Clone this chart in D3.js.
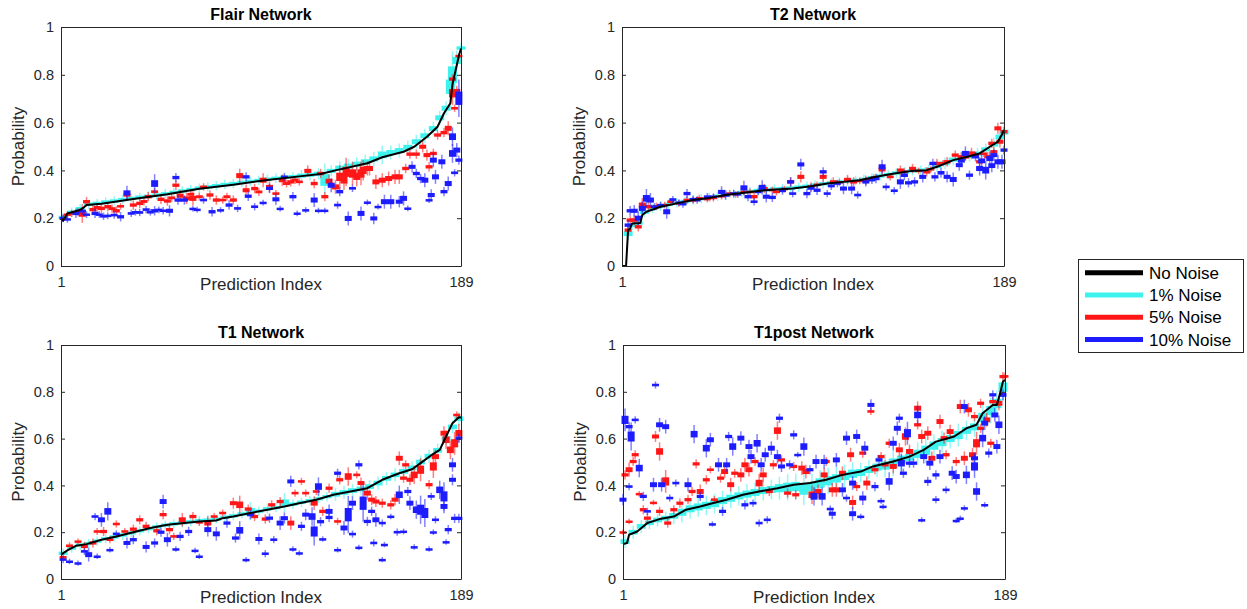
<!DOCTYPE html>
<html>
<head>
<meta charset="utf-8">
<script src="https://cdn.jsdelivr.net/npm/d3@7"></script>
<style>
  body { margin: 0; background: #fff; }
  svg { display: block; font-family: "Liberation Sans", Arial, Helvetica, sans-serif; }
</style>
</head>
<body>
<script>
// chart values
var titles = ["Flair Network", "T2 Network", "T1 Network", "T1post Network"];
var legendLabels = ["No Noise", "1% Noise", "5% Noise", "10% Noise"];
var xTicks = [1, 189];
var yTicks = [0, 0.2, 0.4, 0.6, 0.8, 1];

// no noise curves: [index, probability]
// noisy runs: [index, median, box height]
var flairNone = [[1,0.198],[2,0.19],[4,0.22],[9,0.232],[11,0.24],[13,0.255],[20,0.26],[35,0.28],[51,0.3],[66,0.323],[82,0.34],[98,0.36],[113,0.375],[123,0.385],[130,0.4],[145,0.43],[152,0.455],[162,0.478],[167,0.499],[173,0.541],[178,0.583],[181,0.639],[184,0.681],[185,0.76],[186,0.8],[188,0.88],[189,0.91]];
var flairN1 = [[2,0.203,0.014],[6,0.225,0.014],[10,0.24,0.014],[14,0.258,0.014],[18,0.262,0.014],[22,0.268,0.014],[26,0.272,0.014],[30,0.278,0.014],[34,0.283,0.014],[38,0.288,0.014],[42,0.292,0.014],[46,0.297,0.014],[50,0.302,0.014],[54,0.308,0.014],[58,0.314,0.014],[62,0.32,0.014],[66,0.326,0.014],[70,0.331,0.014],[74,0.336,0.014],[78,0.341,0.014],[82,0.345,0.014],[86,0.35,0.014],[90,0.354,0.014],[94,0.358,0.014],[98,0.363,0.014],[102,0.367,0.014],[106,0.371,0.014],[110,0.374,0.014],[114,0.378,0.017],[118,0.382,0.017],[122,0.386,0.017],[125,0.36,0.049],[128,0.398,0.017],[132,0.41,0.02],[136,0.418,0.021],[140,0.426,0.021],[144,0.436,0.021],[148,0.448,0.021],[152,0.465,0.028],[156,0.475,0.021],[160,0.483,0.021],[164,0.497,0.02],[168,0.52,0.021],[172,0.545,0.021],[176,0.575,0.021],[179,0.62,0.021],[182,0.66,0.021],[184,0.75,0.06],[185,0.8,0.07],[187,0.86,0.03],[189,0.912,0.014]];
var flairN5 = [[2,0.199,0.011],[4,0.215,0.01],[6,0.22,0.011],[9,0.225,0.012],[11,0.22,0.028],[13,0.269,0.014],[16,0.236,0.014],[18,0.245,0.012],[20,0.241,0.014],[23,0.248,0.014],[25,0.24,0.012],[27,0.231,0.014],[29,0.25,0.01],[32,0.297,0.014],[35,0.255,0.014],[38,0.262,0.014],[40,0.27,0.012],[42,0.29,0.014],[45,0.311,0.011],[48,0.279,0.014],[51,0.272,0.014],[53,0.285,0.012],[55,0.338,0.014],[57,0.294,0.017],[60,0.283,0.017],[62,0.3,0.012],[63,0.283,0.021],[66,0.29,0.012],[68,0.331,0.011],[71,0.297,0.014],[74,0.276,0.014],[77,0.276,0.011],[79,0.29,0.012],[82,0.276,0.014],[85,0.378,0.021],[88,0.317,0.017],[92,0.324,0.014],[94,0.31,0.012],[96,0.359,0.021],[99,0.331,0.017],[102,0.303,0.011],[105,0.359,0.017],[107,0.345,0.012],[109,0.352,0.014],[111,0.36,0.012],[113,0.352,0.011],[117,0.398,0.017],[120,0.345,0.014],[123,0.387,0.014],[125,0.29,0.014],[127,0.355,0.02],[130,0.331,0.021],[132,0.373,0.035],[134,0.36,0.03],[135,0.394,0.042],[138,0.387,0.035],[140,0.375,0.03],[142,0.387,0.035],[143,0.4,0.03],[145,0.408,0.021],[146,0.408,0.021],[149,0.352,0.021],[152,0.359,0.021],[155,0.366,0.021],[158,0.373,0.021],[160,0.373,0.021],[163,0.408,0.014],[165,0.468,0.014],[168,0.468,0.014],[171,0.499,0.017],[173,0.464,0.017],[174,0.415,0.014],[176,0.471,0.014],[178,0.548,0.014],[181,0.558,0.014],[183,0.576,0.021],[185,0.723,0.035],[185,0.782,0.014],[187,0.734,0.014],[186,0.66,0.011],[188,0.88,0.007]];
var flairN10 = [[2,0.2,0.011],[4,0.195,0.01],[8,0.22,0.014],[11,0.23,0.012],[13,0.215,0.01],[17,0.22,0.014],[19,0.215,0.01],[21,0.208,0.011],[23,0.21,0.01],[26,0.213,0.011],[29,0.206,0.014],[32,0.306,0.021],[34,0.22,0.011],[36,0.225,0.01],[38,0.224,0.011],[41,0.236,0.011],[43,0.225,0.01],[45,0.231,0.014],[45,0.345,0.028],[47,0.235,0.01],[49,0.231,0.011],[52,0.231,0.017],[55,0.37,0.014],[56,0.276,0.014],[59,0.276,0.014],[63,0.24,0.008],[65,0.236,0.008],[68,0.276,0.011],[72,0.227,0.014],[76,0.234,0.008],[80,0.255,0.014],[84,0.241,0.011],[88,0.373,0.014],[89,0.292,0.014],[92,0.248,0.011],[96,0.265,0.008],[99,0.325,0.014],[102,0.279,0.017],[104,0.24,0.008],[106,0.373,0.011],[110,0.29,0.014],[112,0.22,0.008],[116,0.234,0.008],[120,0.276,0.021],[122,0.232,0.008],[125,0.232,0.008],[128,0.338,0.021],[131,0.255,0.011],[132,0.311,0.014],[136,0.199,0.021],[138,0.325,0.011],[142,0.22,0.021],[145,0.266,0.008],[148,0.199,0.017],[150,0.248,0.008],[153,0.269,0.021],[156,0.269,0.021],[160,0.269,0.017],[162,0.283,0.021],[164,0.241,0.008],[166,0.415,0.017],[168,0.387,0.014],[170,0.366,0.014],[172,0.359,0.021],[174,0.276,0.008],[175,0.297,0.017],[176,0.443,0.021],[177,0.373,0.021],[180,0.436,0.021],[181,0.311,0.014],[183,0.345,0.021],[185,0.471,0.028],[185,0.541,0.028],[186,0.39,0.011],[188,0.443,0.014],[188,0.702,0.056],[187,0.485,0.021]];

var t2None = [[1,0],[3,0],[4,0.15],[5,0.157],[6,0.178],[10,0.18],[11,0.213],[13,0.227],[20,0.248],[28,0.262],[36,0.276],[44,0.285],[52,0.297],[61,0.306],[69,0.315],[77,0.32],[85,0.324],[94,0.334],[102,0.345],[110,0.352],[118,0.359],[126,0.373],[135,0.387],[143,0.397],[151,0.401],[156,0.415],[164,0.443],[171,0.457],[177,0.471],[182,0.499],[186,0.52],[188,0.55],[189,0.569]];
var t2N1 = [[4,0.135,0.02],[6,0.17,0.014],[9,0.18,0.014],[12,0.225,0.014],[16,0.24,0.014],[20,0.25,0.014],[24,0.258,0.014],[28,0.264,0.014],[32,0.27,0.014],[36,0.277,0.014],[40,0.282,0.014],[44,0.287,0.014],[48,0.292,0.014],[52,0.298,0.014],[56,0.303,0.014],[60,0.308,0.014],[64,0.312,0.014],[68,0.316,0.014],[72,0.319,0.014],[76,0.322,0.014],[80,0.324,0.014],[84,0.326,0.014],[88,0.33,0.014],[92,0.334,0.014],[96,0.339,0.014],[100,0.344,0.014],[104,0.348,0.014],[108,0.352,0.014],[112,0.355,0.014],[116,0.358,0.014],[120,0.363,0.014],[124,0.37,0.014],[128,0.377,0.014],[132,0.383,0.014],[136,0.389,0.014],[140,0.394,0.014],[144,0.398,0.014],[148,0.401,0.014],[152,0.405,0.014],[156,0.418,0.017],[160,0.43,0.017],[164,0.445,0.017],[168,0.452,0.017],[172,0.46,0.017],[176,0.47,0.017],[180,0.488,0.017],[184,0.51,0.02],[187,0.54,0.02],[189,0.56,0.02]];
var t2N5 = [[4,0.15,0.014],[5,0.192,0.014],[7,0.192,0.014],[9,0.164,0.014],[11,0.255,0.021],[14,0.248,0.014],[18,0.25,0.011],[22,0.255,0.01],[25,0.269,0.011],[29,0.262,0.01],[33,0.276,0.011],[36,0.275,0.01],[39,0.283,0.011],[43,0.28,0.01],[46,0.285,0.011],[50,0.292,0.01],[54,0.303,0.011],[57,0.3,0.01],[61,0.31,0.011],[64,0.31,0.01],[66,0.29,0.014],[71,0.324,0.014],[75,0.318,0.01],[77,0.31,0.011],[81,0.322,0.01],[84,0.352,0.014],[89,0.373,0.017],[94,0.331,0.014],[97,0.34,0.01],[100,0.373,0.017],[105,0.352,0.014],[108,0.35,0.01],[112,0.362,0.014],[115,0.352,0.014],[118,0.356,0.01],[121,0.359,0.014],[125,0.37,0.01],[129,0.404,0.017],[133,0.373,0.011],[138,0.401,0.014],[140,0.395,0.01],[144,0.408,0.014],[147,0.398,0.01],[151,0.394,0.014],[153,0.405,0.01],[156,0.429,0.014],[159,0.43,0.01],[161,0.436,0.014],[165,0.464,0.014],[168,0.457,0.014],[170,0.455,0.01],[173,0.471,0.017],[175,0.465,0.01],[177,0.436,0.014],[179,0.47,0.01],[181,0.457,0.014],[183,0.513,0.014],[184,0.478,0.014],[186,0.576,0.017],[187,0.52,0.017],[189,0.562,0.014]];
var t2N10 = [[4,0.171,0.014],[5,0.231,0.014],[7,0.231,0.017],[9,0.2,0.021],[11,0.241,0.021],[13,0.283,0.028],[15,0.276,0.021],[17,0.248,0.011],[20,0.255,0.01],[23,0.227,0.021],[26,0.278,0.011],[29,0.265,0.01],[31,0.259,0.011],[33,0.303,0.014],[36,0.28,0.01],[38,0.276,0.011],[43,0.29,0.011],[46,0.29,0.01],[50,0.31,0.017],[52,0.297,0.014],[56,0.303,0.011],[58,0.3,0.01],[61,0.327,0.021],[63,0.29,0.014],[66,0.269,0.011],[68,0.31,0.01],[70,0.329,0.021],[72,0.29,0.017],[75,0.287,0.014],[80,0.315,0.012],[84,0.352,0.014],[85,0.303,0.011],[89,0.425,0.017],[92,0.303,0.014],[94,0.325,0.012],[97,0.317,0.014],[100,0.394,0.014],[102,0.303,0.011],[104,0.335,0.012],[107,0.345,0.011],[110,0.324,0.017],[114,0.324,0.017],[117,0.297,0.011],[121,0.352,0.014],[124,0.36,0.012],[126,0.366,0.014],[129,0.415,0.021],[131,0.331,0.011],[135,0.315,0.011],[138,0.352,0.021],[140,0.38,0.015],[142,0.348,0.014],[145,0.352,0.014],[149,0.373,0.017],[154,0.429,0.014],[155,0.373,0.014],[158,0.39,0.015],[161,0.373,0.017],[164,0.362,0.021],[167,0.422,0.017],[168,0.44,0.015],[170,0.471,0.021],[172,0.38,0.014],[175,0.457,0.014],[177,0.408,0.021],[178,0.44,0.02],[180,0.401,0.028],[182,0.45,0.021],[183,0.42,0.02],[184,0.464,0.017],[186,0.436,0.021],[188,0.436,0.021],[189,0.485,0.014]];

var t1None = [[1,0.104],[4,0.122],[8,0.142],[13,0.149],[20,0.168],[27,0.182],[35,0.2],[43,0.218],[51,0.232],[59,0.239],[66,0.246],[74,0.25],[77,0.26],[82,0.267],[90,0.282],[98,0.296],[106,0.31],[113,0.324],[121,0.339],[129,0.36],[137,0.374],[145,0.388],[152,0.424],[160,0.452],[166,0.469],[170,0.495],[176,0.535],[179,0.552],[182,0.609],[185,0.666],[188,0.691],[189,0.69]];
var t1N1 = [[2,0.11,0.014],[6,0.132,0.014],[10,0.145,0.014],[14,0.152,0.014],[18,0.162,0.014],[22,0.172,0.014],[26,0.18,0.014],[30,0.188,0.014],[34,0.197,0.014],[38,0.206,0.014],[42,0.215,0.014],[46,0.223,0.014],[50,0.23,0.014],[54,0.236,0.014],[58,0.24,0.014],[62,0.245,0.014],[66,0.25,0.014],[70,0.252,0.014],[74,0.256,0.014],[78,0.264,0.014],[82,0.27,0.014],[86,0.278,0.014],[90,0.29,0.028],[94,0.29,0.014],[98,0.3,0.014],[102,0.305,0.014],[106,0.325,0.03],[110,0.32,0.014],[114,0.328,0.014],[118,0.335,0.014],[122,0.343,0.014],[126,0.352,0.014],[130,0.362,0.02],[134,0.37,0.02],[138,0.378,0.02],[142,0.385,0.02],[146,0.395,0.02],[150,0.41,0.02],[154,0.43,0.02],[158,0.445,0.02],[162,0.46,0.02],[166,0.475,0.02],[170,0.5,0.02],[174,0.525,0.02],[178,0.55,0.02],[182,0.6,0.02],[185,0.65,0.02],[188,0.685,0.02]];
var t1N5 = [[2,0.094,0.008],[5,0.142,0.011],[9,0.161,0.008],[12,0.139,0.014],[16,0.154,0.014],[18,0.203,0.011],[21,0.203,0.014],[24,0.168,0.011],[27,0.235,0.011],[31,0.203,0.011],[35,0.213,0.014],[38,0.253,0.014],[41,0.225,0.014],[46,0.206,0.014],[49,0.275,0.014],[52,0.211,0.014],[54,0.182,0.011],[58,0.253,0.021],[63,0.267,0.014],[66,0.242,0.011],[70,0.239,0.021],[73,0.267,0.011],[77,0.282,0.011],[82,0.324,0.017],[85,0.317,0.028],[89,0.299,0.014],[92,0.267,0.014],[97,0.256,0.014],[100,0.317,0.014],[104,0.331,0.014],[109,0.239,0.021],[111,0.367,0.011],[114,0.417,0.011],[116,0.367,0.011],[120,0.324,0.021],[121,0.374,0.011],[124,0.289,0.014],[127,0.388,0.014],[131,0.246,0.011],[132,0.424,0.014],[136,0.438,0.028],[140,0.445,0.011],[142,0.41,0.017],[145,0.367,0.021],[147,0.339,0.017],[149,0.331,0.017],[152,0.324,0.014],[156,0.317,0.014],[158,0.339,0.017],[160,0.516,0.021],[162,0.431,0.014],[163,0.488,0.014],[165,0.424,0.017],[167,0.445,0.028],[170,0.467,0.035],[174,0.403,0.014],[176,0.481,0.035],[177,0.523,0.021],[181,0.623,0.021],[182,0.595,0.028],[184,0.552,0.028],[186,0.58,0.035],[187,0.701,0.011],[188,0.623,0.028]];
var t1N10 = [[2,0.083,0.011],[5,0.075,0.008],[9,0.068,0.007],[12,0.118,0.011],[14,0.104,0.021],[17,0.267,0.011],[18,0.097,0.007],[20,0.253,0.021],[23,0.289,0.028],[24,0.125,0.007],[27,0.193,0.011],[32,0.154,0.017],[35,0.168,0.014],[41,0.137,0.017],[45,0.154,0.014],[48,0.2,0.014],[49,0.331,0.021],[51,0.168,0.021],[55,0.128,0.007],[57,0.182,0.014],[61,0.203,0.014],[64,0.122,0.007],[66,0.097,0.007],[70,0.211,0.021],[74,0.193,0.021],[79,0.239,0.014],[83,0.175,0.014],[85,0.208,0.028],[88,0.083,0.006],[90,0.275,0.014],[94,0.171,0.017],[97,0.108,0.011],[99,0.26,0.014],[101,0.168,0.011],[104,0.239,0.021],[106,0.26,0.017],[109,0.417,0.017],[110,0.128,0.007],[113,0.111,0.007],[114,0.225,0.014],[116,0.275,0.017],[119,0.267,0.028],[120,0.203,0.043],[122,0.395,0.028],[123,0.245,0.014],[124,0.171,0.007],[127,0.289,0.021],[127,0.263,0.014],[131,0.125,0.007],[131,0.452,0.014],[134,0.218,0.021],[136,0.275,0.057],[138,0.192,0.011],[138,0.324,0.021],[141,0.135,0.007],[141,0.488,0.014],[143,0.324,0.057],[145,0.246,0.014],[147,0.289,0.014],[148,0.154,0.011],[149,0.253,0.021],[152,0.239,0.011],[152,0.083,0.006],[153,0.147,0.007],[156,0.267,0.008],[159,0.2,0.011],[160,0.36,0.028],[162,0.203,0.008],[164,0.374,0.014],[165,0.324,0.021],[167,0.137,0.007],[168,0.296,0.028],[170,0.296,0.043],[172,0.282,0.043],[174,0.128,0.007],[175,0.353,0.011],[176,0.2,0.008],[177,0.253,0.011],[179,0.381,0.028],[181,0.353,0.043],[181,0.31,0.021],[182,0.158,0.008],[183,0.211,0.014],[185,0.424,0.017],[185,0.488,0.021],[186,0.259,0.014],[188,0.602,0.014],[188,0.259,0.014]];

var t1postNone = [[1,0.149],[3,0.154],[4,0.189],[8,0.203],[13,0.239],[19,0.256],[26,0.267],[32,0.296],[39,0.31],[45,0.324],[52,0.339],[60,0.36],[68,0.374],[77,0.388],[85,0.403],[93,0.41],[101,0.424],[109,0.445],[118,0.459],[124,0.481],[134,0.502],[142,0.523],[149,0.552],[155,0.587],[164,0.609],[170,0.644],[175,0.659],[178,0.708],[183,0.744],[185,0.744],[187,0.808],[188,0.844],[189,0.85]];
var t1postN1 = [[2,0.16,0.02],[6,0.2,0.02],[10,0.225,0.02],[14,0.24,0.02],[18,0.252,0.02],[22,0.26,0.02],[26,0.27,0.025],[30,0.285,0.03],[34,0.3,0.03],[38,0.308,0.03],[42,0.315,0.03],[46,0.322,0.03],[50,0.335,0.03],[54,0.345,0.03],[58,0.355,0.03],[62,0.363,0.03],[66,0.37,0.03],[70,0.378,0.03],[74,0.383,0.03],[78,0.388,0.035],[82,0.392,0.04],[86,0.395,0.04],[90,0.385,0.05],[94,0.395,0.04],[98,0.41,0.04],[102,0.42,0.04],[106,0.43,0.035],[110,0.44,0.035],[114,0.45,0.035],[118,0.455,0.03],[122,0.468,0.03],[126,0.478,0.03],[130,0.485,0.035],[134,0.495,0.04],[138,0.51,0.035],[142,0.52,0.03],[146,0.535,0.035],[150,0.55,0.04],[154,0.57,0.035],[158,0.585,0.035],[162,0.6,0.03],[166,0.615,0.035],[170,0.635,0.03],[174,0.65,0.03],[178,0.69,0.04],[182,0.72,0.04],[185,0.75,0.04],[188,0.82,0.04]];
var t1postN5 = [[1,0.2,0.008],[2,0.445,0.014],[4,0.467,0.021],[4,0.246,0.008],[6,0.502,0.014],[7,0.531,0.014],[9,0.364,0.008],[11,0.296,0.014],[13,0.26,0.014],[16,0.327,0.007],[17,0.609,0.017],[19,0.545,0.028],[19,0.289,0.014],[22,0.417,0.035],[23,0.239,0.014],[26,0.296,0.014],[29,0.324,0.014],[33,0.339,0.014],[35,0.374,0.014],[37,0.492,0.014],[39,0.374,0.021],[42,0.424,0.014],[44,0.467,0.011],[46,0.339,0.011],[49,0.431,0.014],[51,0.459,0.021],[54,0.403,0.021],[56,0.452,0.014],[59,0.445,0.021],[61,0.488,0.021],[63,0.467,0.021],[66,0.502,0.014],[68,0.41,0.028],[70,0.445,0.021],[73,0.374,0.014],[75,0.488,0.014],[77,0.634,0.028],[79,0.509,0.014],[82,0.367,0.014],[85,0.481,0.014],[86,0.36,0.014],[89,0.474,0.021],[91,0.459,0.021],[94,0.36,0.028],[97,0.374,0.021],[100,0.445,0.021],[101,0.502,0.014],[104,0.381,0.021],[106,0.381,0.021],[109,0.452,0.021],[113,0.531,0.021],[114,0.327,0.021],[116,0.395,0.014],[119,0.538,0.014],[121,0.41,0.021],[123,0.716,0.011],[125,0.467,0.014],[128,0.523,0.014],[130,0.488,0.014],[132,0.58,0.014],[134,0.481,0.021],[137,0.552,0.021],[140,0.609,0.028],[142,0.545,0.021],[146,0.659,0.014],[146,0.73,0.021],[148,0.609,0.021],[151,0.623,0.021],[153,0.516,0.021],[157,0.673,0.021],[159,0.602,0.017],[160,0.531,0.014],[162,0.63,0.021],[165,0.502,0.014],[167,0.737,0.021],[169,0.516,0.021],[171,0.723,0.021],[173,0.531,0.021],[174,0.694,0.014],[175,0.58,0.035],[177,0.751,0.014],[177,0.644,0.014],[180,0.68,0.021],[182,0.58,0.014],[183,0.758,0.014],[186,0.751,0.021],[188,0.865,0.014],[189,0.866,0.011]];
var t1postN10 = [[1,0.339,0.017],[2,0.68,0.035],[4,0.651,0.014],[4,0.395,0.011],[5,0.609,0.043],[7,0.68,0.011],[9,0.474,0.028],[11,0.353,0.014],[13,0.289,0.011],[16,0.403,0.021],[17,0.829,0.011],[19,0.659,0.021],[20,0.403,0.021],[22,0.651,0.021],[24,0.346,0.011],[27,0.41,0.011],[33,0.403,0.021],[36,0.619,0.028],[39,0.353,0.014],[42,0.559,0.028],[44,0.595,0.021],[45,0.235,0.007],[48,0.488,0.021],[50,0.289,0.014],[52,0.488,0.021],[53,0.609,0.014],[55,0.566,0.028],[59,0.602,0.021],[61,0.317,0.014],[63,0.566,0.021],[64,0.523,0.021],[65,0.324,0.011],[67,0.58,0.028],[68,0.239,0.011],[69,0.488,0.021],[71,0.531,0.021],[72,0.253,0.011],[74,0.559,0.021],[77,0.523,0.021],[78,0.687,0.014],[79,0.481,0.017],[83,0.488,0.014],[85,0.616,0.014],[87,0.531,0.008],[90,0.566,0.028],[93,0.467,0.014],[95,0.353,0.028],[96,0.502,0.021],[99,0.353,0.028],[100,0.502,0.021],[103,0.299,0.011],[104,0.279,0.017],[106,0.509,0.021],[109,0.381,0.021],[111,0.346,0.011],[111,0.602,0.021],[114,0.279,0.021],[114,0.41,0.021],[116,0.609,0.021],[118,0.267,0.008],[119,0.346,0.021],[120,0.559,0.021],[123,0.744,0.017],[125,0.395,0.014],[127,0.509,0.014],[128,0.334,0.008],[129,0.31,0.007],[132,0.417,0.028],[134,0.58,0.021],[136,0.644,0.021],[137,0.687,0.014],[138,0.495,0.028],[139,0.452,0.014],[141,0.623,0.035],[142,0.495,0.014],[144,0.495,0.014],[146,0.701,0.028],[148,0.253,0.006],[149,0.523,0.021],[151,0.417,0.014],[152,0.495,0.021],[155,0.445,0.014],[155,0.339,0.011],[157,0.523,0.021],[160,0.381,0.011],[163,0.452,0.021],[165,0.25,0.006],[165,0.438,0.021],[167,0.26,0.006],[169,0.737,0.021],[169,0.303,0.008],[170,0.445,0.028],[174,0.516,0.017],[174,0.481,0.035],[175,0.374,0.028],[178,0.602,0.028],[179,0.317,0.007],[179,0.666,0.021],[181,0.538,0.014],[183,0.787,0.014],[184,0.701,0.021],[185,0.566,0.021],[186,0.659,0.028],[188,0.787,0.017]];

// ---- layout ----
var W = 1247, H = 609;
var colors = {none: "#000000", n1: "#3ef2ee", n5: "#ff1616", n10: "#1c1cff"};
var legendColors = [colors.none, colors.n1, colors.n5, colors.n10];
var axisColor = "#262626";

var panels = [
    {title: titles[0], none: flairNone, n1: flairN1, n5: flairN5, n10: flairN10, left: 61, right: 461, top: 27, bottom: 266},
    {title: titles[1], none: t2None, n1: t2N1, n5: t2N5, n10: t2N10, left: 622, right: 1004, top: 27, bottom: 266},
    {title: titles[2], none: t1None, n1: t1N1, n5: t1N5, n10: t1N10, left: 61, right: 461, top: 345, bottom: 579},
    {title: titles[3], none: t1postNone, n1: t1postN1, n5: t1postN5, n10: t1postN10, left: 623, right: 1005, top: 345, bottom: 579}
];

var svg = d3.select("body").append("svg")
    .attr("width", W)
    .attr("height", H);

svg.append("rect").attr("width", W).attr("height", H).attr("fill", "#fff");

panels.forEach(function(p) {
    var x = d3.scaleLinear().domain([1, 189]).range([p.left, p.right]);
    var y = d3.scaleLinear().domain([0, 1]).range([p.bottom, p.top]);
    var g = svg.append("g");

    // boxes: cyan first, then red, then blue
    [["n1", 9], ["n5", 7], ["n10", 7]].forEach(function(s) {
        var key = s[0], bw = s[1];
        var sg = g.append("g");
        sg.selectAll("line")
            .data(p[key])
            .enter()
            .append("line")
            .attr("x1", d => x(d[0]))
            .attr("x2", d => x(d[0]))
            .attr("y1", d => y(d[1] - d[2] / 2 - Math.max(d[2] * 0.9, 0.008)))
            .attr("y2", d => y(d[1] + d[2] / 2 + Math.max(d[2] * 0.9, 0.008)))
            .attr("stroke", colors[key])
            .attr("stroke-width", 1.5)
            .attr("stroke-opacity", 0.55);
        sg.selectAll("rect")
            .data(p[key])
            .enter()
            .append("rect")
            .attr("x", d => x(d[0]) - bw / 2)
            .attr("width", bw)
            .attr("y", d => y(d[1] + d[2] / 2))
            .attr("height", d => Math.max(y(d[1] - d[2] / 2) - y(d[1] + d[2] / 2), 2.5))
            .attr("fill", colors[key]);
    });

    var line = d3.line().x(d => x(d[0])).y(d => y(d[1]));
    g.append("path")
        .datum(p.none)
        .attr("d", line)
        .attr("fill", "none")
        .attr("stroke", colors.none)
        .attr("stroke-width", 2)
        .attr("stroke-linejoin", "round");

    // axes box
    var yAx = g.append("g")
        .attr("transform", "translate(" + p.left + ",0)")
        .call(d3.axisLeft(y).tickValues(yTicks).tickSize(-4).tickSizeOuter(0).tickPadding(7)
            .tickFormat(d => d === 0 || d === 1 ? String(d) : d3.format(".1f")(d)));
    var yAxR = g.append("g")
        .attr("transform", "translate(" + p.right + ",0)")
        .call(d3.axisRight(y).tickValues(yTicks).tickSize(-4).tickSizeOuter(0).tickFormat(""));
    var xAx = g.append("g")
        .attr("transform", "translate(0," + p.bottom + ")")
        .call(d3.axisBottom(x).tickValues(xTicks).tickSize(-4).tickSizeOuter(0).tickPadding(11));
    var xAxT = g.append("g")
        .attr("transform", "translate(0," + p.top + ")")
        .call(d3.axisTop(x).tickValues(xTicks).tickSize(-4).tickSizeOuter(0).tickFormat(""));

    [yAx, yAxR, xAx, xAxT].forEach(function(a) {
        a.attr("font-family", null).attr("font-size", null);
        a.select(".domain").attr("stroke", axisColor).attr("stroke-width", 1);
        a.selectAll(".tick line").attr("stroke", axisColor);
        a.selectAll(".tick text")
            .attr("fill", axisColor)
            .style("font-size", "14.5px");
    });

    g.append("text")
        .attr("x", (p.left + p.right) / 2)
        .attr("y", p.top - 7)
        .attr("text-anchor", "middle")
        .style("font-size", "16px")
        .style("font-weight", "bold")
        .attr("fill", "#000")
        .text(p.title);

    g.append("text")
        .attr("x", (p.left + p.right) / 2)
        .attr("y", p.bottom + 23.5)
        .attr("text-anchor", "middle")
        .style("font-size", "17px")
        .attr("fill", axisColor)
        .text("Prediction Index");

    g.append("text")
        .attr("transform", "translate(" + (p.left - 37) + "," + ((p.top + p.bottom) / 2) + ") rotate(-90)")
        .attr("text-anchor", "middle")
        .style("font-size", "17px")
        .attr("fill", axisColor)
        .text("Probability");
});

// legend
var lg = svg.append("g");
lg.append("rect")
    .attr("x", 1078.5).attr("y", 259.5)
    .attr("width", 165).attr("height", 93)
    .attr("fill", "#fff")
    .attr("stroke", "#262626")
    .attr("stroke-width", 1);

var item = lg.selectAll("g.item")
    .data(legendLabels)
    .enter()
    .append("g")
    .attr("class", "item")
    .attr("transform", (d, i) => "translate(1085," + (272.7 + i * 22.3) + ")");
item.append("line")
    .attr("x1", 0).attr("x2", 58)
    .attr("stroke", (d, i) => legendColors[i])
    .attr("stroke-width", 5);
item.append("text")
    .attr("x", 64)
    .attr("dy", "0.36em")
    .style("font-size", "17px")
    .attr("fill", "#000")
    .text(d => d);
</script>
</body>
</html>
